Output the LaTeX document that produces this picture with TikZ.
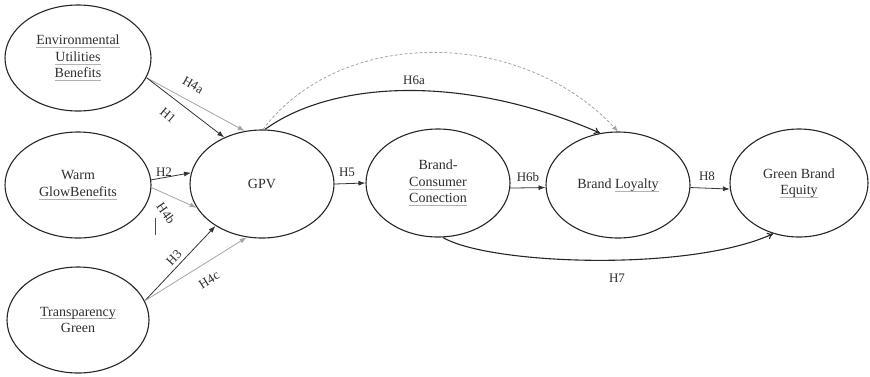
\documentclass[tikz,border=0pt]{standalone}
\usepackage{fontspec}
\setmainfont{Liberation Serif}
\usetikzlibrary{shapes.geometric,arrows.meta}
\definecolor{txt}{RGB}{45,45,45}
\definecolor{soft}{RGB}{165,165,165}
% faint grey underline under a word
\newsavebox\sqbox
\newcommand\sq[1]{\begingroup\sbox\sqbox{#1}%
  \rlap{\color{black!30}\rule[-2.8pt]{\wd\sqbox}{0.6pt}}\usebox\sqbox\endgroup}
\begin{document}
\begin{tikzpicture}[x=1pt,y=-1pt,
  construct/.style={ellipse,draw=black!85,line width=1.1pt,inner sep=0pt,
    align=center,text=txt,font=\fontsize{14}{16.5}\selectfont},
  hyp/.style={-{Latex[length=7pt,width=5pt]},line width=0.8pt,draw=black!80},
  hypsoft/.style={-{Latex[length=7pt,width=5pt]},line width=0.8pt,draw=soft},
  curved/.style={-{To[length=6pt,width=7pt]},line width=1.1pt,draw=black!85},
  lbl/.style={text=txt,font=\fontsize{13}{15}\selectfont,inner sep=0pt}]
\useasboundingbox (0,0) rectangle (870,376);

% constructs
\node[construct,minimum width=146pt,minimum height=106pt] (env) at (78,58)
  {\sq{Environmental}\\\sq{Utilities}\\\sq{Benefits}};
\node[construct,minimum width=146pt,minimum height=106pt] (warm) at (78,185)
  {Warm\\\sq{GlowBenefits}};
\node[construct,minimum width=142pt,minimum height=106pt] (trans) at (78,320)
  {\sq{Transparency}\\Green};
\node[construct,minimum width=144pt,minimum height=108pt] (gpv) at (262,184) {GPV};
\node[construct,minimum width=144pt,minimum height=108pt] (bcc) at (438,183)
  {Brand-\\\sq{Consumer}\\\sq{Conection}};
\node[construct,minimum width=144pt,minimum height=106pt] (bl) at (618,185)
  {Brand \sq{Loyalty}};
\node[construct,minimum width=138pt,minimum height=108pt] (gbe) at (799,183)
  {Green Brand\\\sq{Equity}};

% antecedents of GPV
\draw[hypsoft] (env.-16) -- (gpv.108);
\draw[hyp] (env.-16) -- (gpv.129);
\draw[hyp] (warm.4) -- (gpv.171);
\draw[hypsoft] (warm.-2) -- (gpv.200);
\draw[hyp] (trans.16) -- (gpv.222);
\draw[hypsoft] (trans.16) -- (gpv.254);

\node[lbl,rotate=-30] (l4a) at (193,85) {H4a};
\node[lbl,rotate=-40] (l1) at (168,115) {H1};
\node[lbl] (l2) at (164,172) {H2};
\node[lbl,rotate=-55] (l4b) at (166,213) {H4b};
\coordinate (tickA) at (155,218);
\coordinate (tickB) at (155,235);
\draw[line width=0.8pt,draw=black!70] (tickA) -- (tickB);
\node[lbl,rotate=47] (l3) at (174,258) {H3};
\node[lbl,rotate=32] (l4c) at (209,280) {H4c};

% main chain
\draw[hyp] (gpv.east) -- (bcc.180);
\node[lbl] (l5) at (347,172) {H5};
\draw[hyp] (bcc.-4) -- (bl.182);
\node[lbl] (l6b) at (528,177) {H6b};
\draw[hyp] (bl.-2) -- (gbe.185);
\node[lbl] (l8) at (707,176) {H8};

% curved paths
\draw[-{Latex[length=6pt,width=5pt]},line width=0.8pt,draw=soft,dash pattern=on 3pt off 2pt]
  (gpv.89) .. controls (340,27) and (520,27) .. (bl.90);
\draw[curved] (gpv.87) .. controls (330,82) and (460,72) .. (bl.109);
\node[lbl] (l6a) at (414,80) {H6a};
\draw[curved] (bcc.-85) .. controls (490,265) and (690,272) .. (gbe.-117);
\node[lbl] (l7) at (617,278) {H7};
\end{tikzpicture}
\end{document}
